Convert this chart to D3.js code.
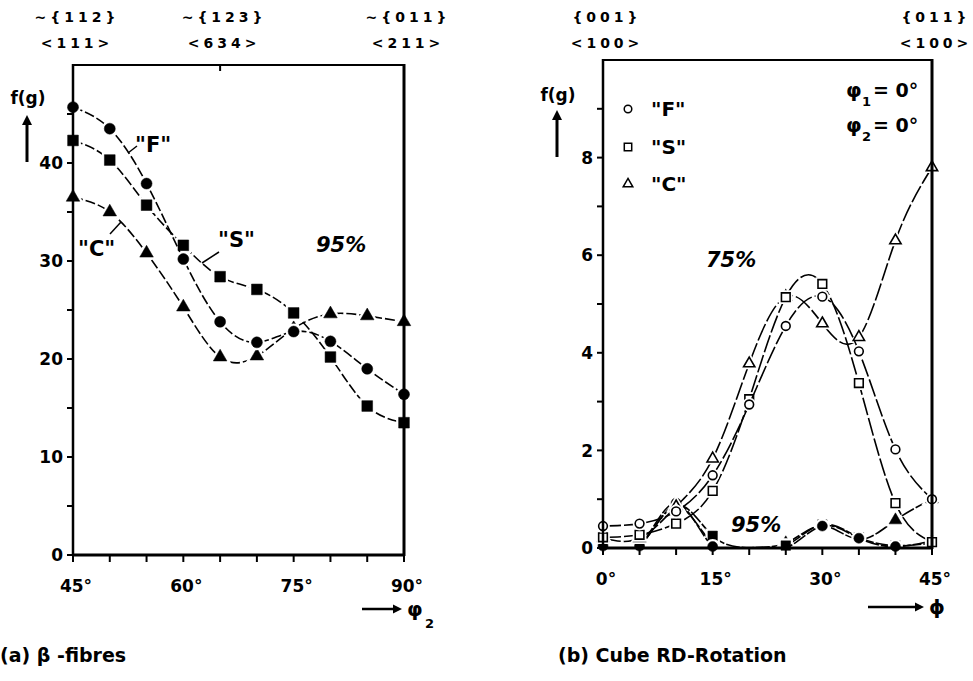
<!DOCTYPE html>
<html><head><meta charset="utf-8">
<script src="https://cdn.jsdelivr.net/npm/d3@7"></script>
<style>
body{margin:0;background:#fff;}
svg text{font-family:"DejaVu Sans",sans-serif;font-weight:bold;fill:#000;}
</style></head>
<body><svg id="c" width="973" height="681"></svg>
<script>
// ---------- data: panel (a) beta-fibres ----------
const phi2 = [45,50,55,60,65,70,75,80,85,90];
const betaF = [45.7,43.5,37.9,30.2,23.8,21.7,22.8,21.8,19.0,16.4];
const betaS = [42.3,40.3,35.7,31.6,28.4,27.1,24.7,20.2,15.2,13.5];
const betaC = [36.5,35.0,30.8,25.3,20.2,20.3,23.1,24.6,24.4,23.8];
const aXTicks = [45,60,75,90];
const aYTicks = [0,10,20,30,40];
const aTopLabels = [{x:45,a:"~{112}",b:"<111>"},{x:65,a:"~{123}",b:"<634>"},{x:90,a:"~{011}",b:"<211>"}];

// ---------- data: panel (b) cube RD-rotation ----------
const phi = [0,5,10,15,20,25,30,35,40,45];
const cubeF75 = [0.45,0.50,0.75,1.49,2.94,4.55,5.15,4.03,2.02,1.00];
const cubeS75 = [0.22,0.27,0.50,1.17,3.05,5.14,5.41,3.38,0.92,0.12];
const cubeC75 = [0.20,0.20,0.85,1.83,3.78,5.15,4.60,4.32,6.30,7.80];
const cubeF95 = [0.04,0.04,0.92,0.03,0,0,0.45,0.20,0.03,0.15];
const cubeS95 = [0.04,0.04,0.88,0.25,0,0.05,0.48,0.22,0.05,0.10];
const cubeC95 = [0.04,0.04,0.85,0.10,0,0.10,0.45,0.18,0.57,1.00];
const bXTicks = [0,15,30,45];
const bYTicks = [0,2,4,6,8];
const bTopLabels = [{x:0,a:"{001}",b:"<100>"},{x:45,a:"{011}",b:"<100>"}];

const svg = d3.select("#c");

function frame(g, x, y, xt, yt, xminor, yminor){
  const [x0,x1]=x.range(), [y0,y1]=y.range();
  g.append("g").selectAll("line.yt").data(yminor).join("line")
    .attr("x1",x0-6).attr("x2",x0).attr("y1",d=>y(d)).attr("y2",d=>y(d))
    .attr("stroke","#000").attr("stroke-width",2);
  g.append("g").selectAll("line.xt").data(xminor).join("line")
    .attr("x1",d=>x(d)).attr("x2",d=>x(d)).attr("y1",y0).attr("y2",y0+7)
    .attr("stroke","#000").attr("stroke-width",2);
  g.append("g").selectAll("text.yl").data(yt).join("text")
    .attr("x",x0-10).attr("y",d=>y(d)).attr("dy","0.36em")
    .attr("text-anchor","end").attr("font-size",17).text(d=>d);
  g.append("g").selectAll("text.xl").data(xt).join("text")
    .attr("x",d=>x(d)+3).attr("y",y0+37)
    .attr("text-anchor","middle").attr("font-size",17).text(d=>d+"°");
  g.append("line").attr("x1",x0).attr("x2",x1).attr("y1",y1).attr("y2",y1).attr("stroke","#000").attr("stroke-width",2);
  g.append("line").attr("x1",x0).attr("x2",x1).attr("y1",y0).attr("y2",y0).attr("stroke","#000").attr("stroke-width",3);
  g.append("line").attr("x1",x0).attr("x2",x0).attr("y1",y0+1).attr("y2",y1-1).attr("stroke","#000").attr("stroke-width",2.5);
  g.append("line").attr("x1",x1).attr("x2",x1).attr("y1",y0+1).attr("y2",y1-1).attr("stroke","#000").attr("stroke-width",3);
}

function topLabels(g, x, labs){
  labs.forEach(l=>{
    g.append("text").attr("x",x(l.x)+4).attr("y",22).attr("text-anchor","middle")
      .attr("font-size",14).attr("letter-spacing",4).text(l.a);
    g.append("text").attr("x",x(l.x)+4).attr("y",48).attr("text-anchor","middle")
      .attr("font-size",14).attr("letter-spacing",4).text(l.b);
  });
}

function fgLabel(g, cx, ty, a0, a1){
  g.append("text").attr("x",cx).attr("y",ty).attr("text-anchor","middle").attr("font-size",17).text("f(g)");
  g.append("line").attr("x1",cx-1).attr("x2",cx-1).attr("y1",a0).attr("y2",a1+8).attr("stroke","#000").attr("stroke-width",3);
  g.append("path").attr("d",`M${cx-6},${a1+10}L${cx-1},${a1}L${cx+4},${a1+10}Z`).attr("fill","#000");
}

function arrowLabel(g, xa, xb, yy, sym, sub){
  g.append("line").attr("x1",xa).attr("x2",xb-6).attr("y1",yy).attr("y2",yy).attr("stroke","#000").attr("stroke-width",2.5);
  g.append("path").attr("d",`M${xb-9},${yy-4.5}L${xb},${yy}L${xb-9},${yy+4.5}Z`).attr("fill","#000");
  g.append("text").attr("x",xb+5).attr("y",yy+7).attr("font-size",20).text(sym);
  if(sub) g.append("text").attr("x",xb+23).attr("y",yy+19).attr("font-size",13).text(sub);
}

const sym = {
  circle: d3.symbol().type(d3.symbolCircle),
  square: d3.symbol().type(d3.symbolSquare),
  triangle: d3.symbol().type(d3.symbolTriangle)
};

function series(g, x, y, xs, ys, kind, size, filled, dash, clipId){
  const pts = xs.map((d,i)=>[d,ys[i]]);
  const line = d3.line().x(d=>x(d[0])).y(d=>y(d[1])).curve(d3.curveNatural);
  g.append("path").attr("d",line(pts)).attr("fill","none").attr("stroke","#000")
    .attr("stroke-width",1.6).attr("stroke-dasharray",dash).attr("clip-path",`url(#${clipId})`);
  const pg = g.append("g");
  const s = sym[kind].size(size);
  const shown = pts.filter(d=>d[1]>0);
  pg.selectAll("path.h").data(shown).join("path")
    .attr("transform",d=>`translate(${x(d[0])},${y(d[1])})`).attr("d",s())
    .attr("fill","#fff").attr("stroke","#fff").attr("stroke-width",5);
  pg.selectAll("path.m").data(shown).join("path")
    .attr("transform",d=>`translate(${x(d[0])},${y(d[1])})`).attr("d",s())
    .attr("fill",filled?"#000":"#fff").attr("stroke","#000").attr("stroke-width",filled?0.5:1.6);
}

// ================= Panel (a) =================
const ax = d3.scaleLinear().domain([45,90]).range([73,404]);
const ay = d3.scaleLinear().domain([0,50]).range([555,65]);
const ga = svg.append("g");
ga.append("clipPath").attr("id","clipA").append("rect").attr("x",73).attr("y",65).attr("width",331).attr("height",490);
series(ga, ax, ay, phi2, betaC, "triangle", 80, true, "10,3", "clipA");
series(ga, ax, ay, phi2, betaS, "square", 115, true, "10,3", "clipA");
series(ga, ax, ay, phi2, betaF, "circle", 95, true, "10,3", "clipA");
frame(ga, ax, ay, aXTicks, aYTicks, d3.range(45,91,5), d3.range(0,46,5));
ga.append("line").attr("x1",ax(65)).attr("x2",ax(65)).attr("y1",65).attr("y2",71).attr("stroke","#000").attr("stroke-width",2);
topLabels(ga, ax, aTopLabels);
fgLabel(ga, 28, 104, 162, 115);
arrowLabel(ga, 362, 402, 609, "φ", "2");
const lab = (g,x0,y0,t)=>g.append("text").attr("x",x0).attr("y",y0).attr("font-size",21).text(t);
lab(ga,135,152,"\"F\"");
ga.append("line").attr("x1",128).attr("y1",153).attr("x2",137).attr("y2",146).attr("stroke","#000").attr("stroke-width",1.5);
lab(ga,218,247,"\"S\"");
ga.append("line").attr("x1",202).attr("y1",263).attr("x2",219).attr("y2",252).attr("stroke","#000").attr("stroke-width",1.5);
lab(ga,78,256,"\"C\"");
ga.append("line").attr("x1",110).attr("y1",234).attr("x2",121).attr("y2",222).attr("stroke","#000").attr("stroke-width",1.5);
ga.append("text").attr("x",316).attr("y",252).attr("font-size",21).attr("font-style","italic").text("95%");
ga.append("text").attr("x",0).attr("y",662).attr("font-size",19).text("(a)  β -fibres");

// ================= Panel (b) =================
const bx = d3.scaleLinear().domain([0,45]).range([603,932]);
const by = d3.scaleLinear().domain([0,10]).range([548,60]);
const gb = svg.append("g");
gb.append("clipPath").attr("id","clipB").append("rect").attr("x",603).attr("y",60).attr("width",329).attr("height",488);
series(gb, bx, by, phi, cubeC95, "triangle", 70, true, "14,2", "clipB");
series(gb, bx, by, phi, cubeS95, "square", 90, true, "14,2", "clipB");
series(gb, bx, by, phi, cubeF95, "circle", 80, true, "14,2", "clipB");
series(gb, bx, by, phi, cubeC75, "triangle", 55, false, "18,3", "clipB");
series(gb, bx, by, phi, cubeS75, "square", 75, false, "18,3", "clipB");
series(gb, bx, by, phi, cubeF75, "circle", 60, false, "18,3", "clipB");
frame(gb, bx, by, bXTicks, bYTicks, d3.range(0,46,5), d3.range(0,10,1));
topLabels(gb, bx, bTopLabels);
fgLabel(gb, 558, 101, 157, 110);
arrowLabel(gb, 868, 924, 607, "ϕ", null);
const leg = [{k:"circle",t:"\"F\"",y:109,s:45},{k:"square",t:"\"S\"",y:147,s:55},{k:"triangle",t:"\"C\"",y:184,s:40}];
leg.forEach(l=>{
  gb.append("path").attr("transform",`translate(628,${l.y})`).attr("d",sym[l.k].size(l.s)())
    .attr("fill","#fff").attr("stroke","#000").attr("stroke-width",1.5);
  gb.append("text").attr("x",651).attr("y",l.y).attr("dy","0.36em").attr("font-size",20).text(l.t);
});
const phiLab=(yy,n)=>{
  gb.append("text").attr("x",846).attr("y",yy).attr("font-size",20).attr("font-weight","normal").text("φ");
  gb.append("text").attr("x",862).attr("y",yy+9).attr("font-size",13).text(n);
  gb.append("text").attr("x",873).attr("y",yy).attr("font-size",19).text("= 0°");
};
phiLab(97,"1"); phiLab(132,"2");
gb.append("text").attr("x",706).attr("y",267).attr("font-size",21).attr("font-style","italic").text("75%");
gb.append("text").attr("x",731).attr("y",532).attr("font-size",21).attr("font-style","italic").text("95%");
gb.append("text").attr("x",558).attr("y",662).attr("font-size",19).text("(b)  Cube RD-Rotation");
</script></body></html>
